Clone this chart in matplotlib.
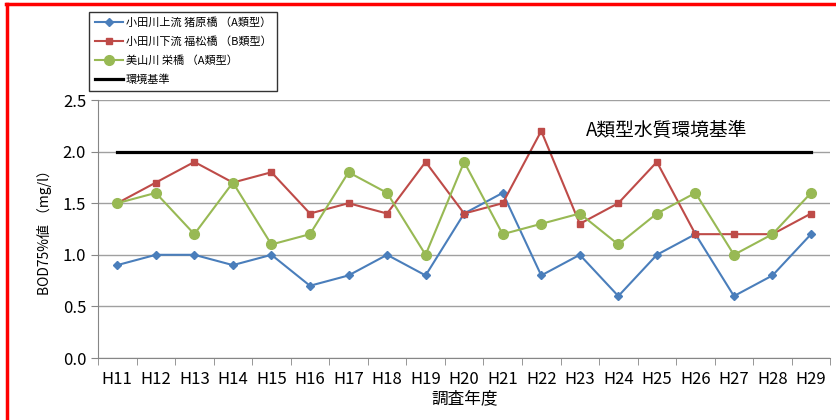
import matplotlib
matplotlib.use('Agg')
import matplotlib.pyplot as plt
from matplotlib.lines import Line2D
from matplotlib.ticker import FormatStrFormatter

plt.rcParams['font.family'] = ['Noto Sans CJK JP', 'DejaVu Sans']

# データ
years = ['H11', 'H12', 'H13', 'H14', 'H15', 'H16', 'H17', 'H18', 'H19', 'H20',
         'H21', 'H22', 'H23', 'H24', 'H25', 'H26', 'H27', 'H28', 'H29']
inohara = [0.9, 1.0, 1.0, 0.9, 1.0, 0.7, 0.8, 1.0, 0.8, 1.4,
           1.6, 0.8, 1.0, 0.6, 1.0, 1.2, 0.6, 0.8, 1.2]
fukumatsu = [1.5, 1.7, 1.9, 1.7, 1.8, 1.4, 1.5, 1.4, 1.9, 1.4,
             1.5, 2.2, 1.3, 1.5, 1.9, 1.2, 1.2, 1.2, 1.4]
sakae = [1.5, 1.6, 1.2, 1.7, 1.1, 1.2, 1.8, 1.6, 1.0, 1.9,
         1.2, 1.3, 1.4, 1.1, 1.4, 1.6, 1.0, 1.2, 1.6]
standard = [2.0] * len(years)

x = list(range(len(years)))

fig = plt.figure(figsize=(8.36, 4.2), dpi=100)
ax = fig.add_axes([0.1172, 0.1476, 0.876, 0.6143])

# 赤い枠線
fig.add_artist(Line2D([0.0072, 1.0], [0.990, 0.990], color='#ff0000', lw=2.5, transform=fig.transFigure))
fig.add_artist(Line2D([0.0078, 0.0078], [0.0, 0.990], color='#ff0000', lw=2.5, transform=fig.transFigure))

ax.plot(x, inohara, color='#4a7ebb', marker='D', markersize=4, lw=1.5, label='小田川上流 猪原橋 （A類型）')
ax.plot(x, fukumatsu, color='#be4b48', marker='s', markersize=5, lw=1.5, label='小田川下流 福松橋 （B類型）')
ax.plot(x, sakae, color='#98b954', marker='o', markersize=7, lw=1.5, label='美山川 栄橋 （A類型）')
ax.plot(x, standard, color='black', lw=2.3, label='環境基準')

ax.text(14.26, 2.2, 'A類型水質環境基準', fontsize=13.5, ha='center', va='center')

ax.set_xlim(-0.5, len(years) - 0.5)
ax.set_ylim(0, 2.5)
ax.set_yticks([0, 0.5, 1.0, 1.5, 2.0, 2.5])
ax.yaxis.set_major_formatter(FormatStrFormatter('%.1f'))
ax.set_xticks(x)
ax.set_xticklabels(years)
ax.set_xticks([i - 0.5 for i in range(len(years) + 1)], minor=True)
ax.tick_params(axis='x', which='major', length=0, labelsize=12, pad=9)
ax.tick_params(axis='x', which='minor', length=5, color='#868686', direction='out')
ax.tick_params(axis='y', length=5, color='#868686', labelsize=12)
ax.grid(axis='y', color='#a0a0a0', lw=1)
ax.set_axisbelow(True)
for s in ['top', 'right']:
    ax.spines[s].set_visible(False)
ax.spines['left'].set_color('#868686')
ax.spines['bottom'].set_color('#868686')

ax.set_ylabel('BOD75%値 （mg/l）', fontsize=10, labelpad=8)
ax.set_xlabel('調査年度', fontsize=12, labelpad=2)

leg = fig.legend(loc='upper left', bbox_to_anchor=(89 / 836, 1 - 12 / 420), fontsize=8,
                 frameon=True, fancybox=False, edgecolor='black', handlelength=2.6,
                 borderaxespad=0, labelspacing=0.75, borderpad=0.5, handletextpad=0.2)
leg.get_frame().set_linewidth(1)

fig.savefig('out.png', dpi=100)
